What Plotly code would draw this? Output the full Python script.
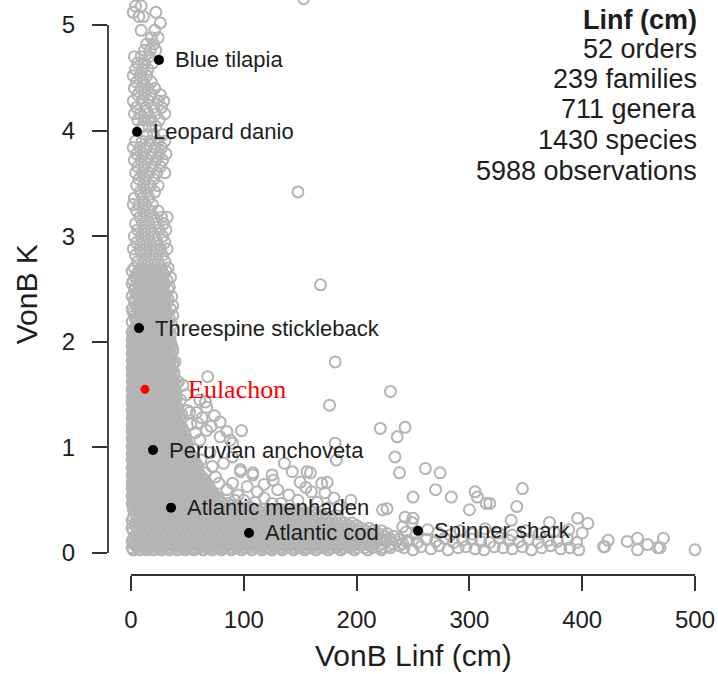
import plotly.graph_objects as go

# ---- observations: von Bertalanffy K (per year) against Linf (cm) ----
# Each row is (K, [Linf values observed at about that K]).

column_upper_rows = [
    (5.18, [4, 9]), (5.12, [2, 22]), (5.08, [7, 11]), (5.02, [26]),
    (4.95, [9, 21]), (4.88, [18, 24]), (4.82, [14, 20]), (4.76, [12, 17, 22]),
    (4.70, [3, 9, 16]), (4.64, [6, 12, 19]), (4.58, [4, 10, 15]), (4.52, [2, 8, 14]),
    (4.46, [5, 11, 18]), (4.40, [3, 9, 15, 21]), (4.34, [6, 12, 18, 26]),
    (4.28, [2, 10, 16, 24, 29]), (4.22, [5, 13, 20, 27]), (4.16, [3, 8, 15, 22, 30]),
    (4.10, [6, 12, 18, 25]), (4.04, [10, 16, 22]), (3.96, [14, 20, 28]),
    (3.90, [4, 10, 17, 24, 30]), (3.84, [2, 8, 14, 21, 27]), (3.78, [5, 11, 18, 25, 31]),
    (3.72, [3, 9, 15, 22, 28]), (3.66, [6, 12, 19, 26]), (3.60, [4, 10, 16, 23, 30]),
    (3.54, [7, 13, 20]), (3.48, [5, 11, 17, 24]), (3.42, [8, 14, 21]),
    (3.36, [3, 10, 16]), (3.30, [2, 7, 13, 19]), (3.24, [5, 11, 17, 24]),
    (3.18, [8, 14, 20, 27, 32]), (3.12, [4, 10, 16, 22, 29]), (3.06, [6, 12, 18, 25, 31]),
    (3.00, [3, 9, 15, 21, 28]), (2.94, [5, 11, 17, 23, 30]), (2.88, [2, 8, 14, 20, 26, 32]),
    (2.82, [4, 10, 16, 22, 28]), (2.76, [6, 12, 18, 24, 30]), (2.70, [3, 9, 15, 21, 27, 33]),
    (2.67, [1, 7, 13, 19, 25, 31]), (2.64, [5, 11, 17, 23, 29]), (2.61, [4, 10, 16, 22, 28, 35]),
    (2.58, [2, 8, 14, 20, 26, 32]), (2.55, [1, 6, 12, 18, 24, 30]), (2.52, [4, 10, 16, 22, 28, 34]),
    (2.49, [3, 9, 15, 21, 27, 33]), (2.46, [6, 12, 18, 24, 30]), (2.43, [1, 6, 12, 18, 24, 30, 36]),
    (2.40, [3, 9, 15, 21, 27, 33]), (2.37, [3, 8, 14, 20, 26, 32]), (2.34, [5, 11, 17, 23, 29, 37]),
    (2.31, [1, 6, 11, 17, 23, 29, 35]), (2.28, [2, 8, 14, 20, 26, 32]),
    (2.25, [3, 7, 13, 19, 25, 31, 37]), (2.22, [4, 10, 16, 22, 28, 34]),
    (2.19, [1, 5, 9, 15, 21, 27, 33]), (2.16, [6, 12, 18, 24, 30, 36]),
]

column_core_rows = [
    (2.13, [4, 8, 13, 17, 21, 26, 30]),
    (2.11, [2, 6, 10, 15, 19, 23, 28, 32]),
    (2.09, [1, 5, 10, 14, 19, 24, 28, 33]),
    (2.07, [3, 8, 12, 17, 21, 26, 30, 35]),
    (2.05, [2, 6, 10, 15, 19, 24, 28, 32]),
    (2.02, [1, 5, 10, 14, 19, 24, 28, 33]),
    (2.00, [3, 8, 12, 17, 21, 26, 30, 35]),
    (1.98, [3, 7, 12, 16, 21, 25, 30, 34]),
    (1.96, [1, 5, 9, 14, 18, 23, 27, 32, 36]),
    (1.93, [2, 6, 10, 15, 19, 24, 28, 33, 37]),
    (1.91, [3, 8, 11, 15, 20, 24, 29, 33, 37]),
    (1.89, [1, 4, 8, 13, 17, 22, 26, 31, 35]),
    (1.87, [2, 6, 10, 15, 19, 24, 28, 33]),
    (1.84, [3, 7, 11, 16, 20, 25, 29, 34]),
    (1.82, [1, 4, 8, 12, 17, 21, 26, 30, 35]),
    (1.80, [2, 5, 10, 14, 19, 23, 28, 32, 37]),
    (1.78, [3, 7, 11, 15, 19, 24, 28, 33, 37]),
    (1.75, [1, 4, 8, 12, 17, 21, 26, 30, 35]),
    (1.73, [2, 5, 9, 13, 17, 22, 26, 31, 36]),
    (1.71, [3, 6, 10, 15, 19, 24, 28, 33, 38]),
    (1.69, [1, 4, 8, 12, 16, 21, 25, 30, 34, 38]),
    (1.66, [2, 5, 9, 13, 18, 22, 27, 31, 36]),
    (1.64, [3, 7, 11, 15, 20, 24, 29, 33, 37]),
    (1.62, [1, 4, 8, 12, 16, 21, 25, 30, 34, 38]),
    (1.60, [2, 6, 10, 14, 18, 23, 27, 32, 36, 40]),
    (1.57, [3, 7, 11, 15, 20, 24, 29, 33, 37]),
    (1.55, [1, 5, 9, 13, 17, 22, 26, 31, 35, 39]),
    (1.53, [2, 5, 9, 14, 18, 23, 27, 32, 36]),
    (1.51, [3, 7, 11, 16, 20, 25, 29, 34, 38]),
    (1.48, [1, 4, 8, 12, 17, 21, 26, 30, 35, 39]),
    (1.46, [2, 6, 10, 14, 19, 23, 28, 32, 36, 40]),
    (1.44, [3, 6, 10, 15, 19, 24, 28, 33, 37]),
    (1.42, [1, 4, 8, 12, 17, 21, 26, 30, 35, 39]),
    (1.39, [2, 5, 9, 13, 18, 22, 27, 31, 36, 40]),
    (1.37, [3, 7, 11, 15, 19, 24, 28, 33, 37, 41]),
    (1.35, [1, 4, 8, 12, 16, 21, 25, 30, 34, 38]),
    (1.33, [2, 6, 10, 14, 18, 23, 27, 32, 36, 40]),
    (1.30, [3, 7, 11, 15, 20, 24, 29, 33, 37, 41]),
    (1.28, [1, 5, 9, 13, 17, 22, 26, 31, 35, 39, 43]),
    (1.26, [2, 5, 9, 14, 18, 23, 27, 32, 36, 40]),
    (1.24, [3, 7, 11, 16, 20, 25, 29, 34, 38, 42]),
    (1.21, [1, 4, 8, 12, 17, 21, 26, 30, 35, 39, 43]),
    (1.19, [2, 6, 10, 14, 19, 23, 28, 32, 37, 41, 45]),
    (1.17, [3, 6, 10, 15, 19, 24, 28, 33, 37, 41, 45]),
    (1.15, [1, 4, 8, 12, 17, 21, 26, 30, 35, 39, 43, 47]),
    (1.12, [2, 5, 9, 13, 18, 22, 27, 31, 36, 40, 44]),
    (1.10, [3, 7, 11, 15, 20, 24, 29, 33, 38, 42, 46]),
    (1.08, [1, 4, 8, 12, 16, 21, 25, 30, 34, 38, 43, 47]),
    (1.06, [2, 6, 10, 14, 18, 23, 27, 32, 36, 41, 45, 49]),
    (1.03, [3, 7, 11, 15, 20, 24, 29, 33, 37, 42, 46]),
    (1.01, [1, 5, 9, 13, 17, 22, 26, 31, 35, 39, 44, 48]),
    (0.99, [2, 5, 9, 14, 18, 23, 27, 32, 36, 40, 45, 49]),
    (0.97, [3, 7, 11, 16, 20, 25, 29, 34, 38, 43, 47, 51]),
    (0.94, [1, 4, 8, 12, 17, 21, 26, 30, 35, 39, 43, 48, 52]),
    (0.92, [2, 6, 10, 14, 19, 23, 28, 32, 37, 41, 45, 50, 54]),
    (0.90, [3, 6, 10, 15, 19, 24, 28, 33, 37, 41, 46, 50, 54]),
    (0.88, [1, 4, 8, 12, 16, 21, 25, 30, 35, 39, 43, 48, 52, 56]),
    (0.85, [2, 5, 9, 13, 18, 22, 27, 31, 36, 40, 44, 49, 53, 57]),
    (0.83, [3, 7, 11, 15, 20, 24, 29, 33, 38, 42, 47, 51, 55, 59]),
    (0.81, [1, 4, 8, 12, 16, 21, 25, 30, 34, 38, 43, 47, 52, 56]),
    (0.79, [2, 6, 10, 14, 18, 23, 27, 32, 36, 41, 45, 50, 54, 58]),
    (0.76, [3, 7, 11, 15, 20, 24, 29, 33, 37, 42, 46, 51, 55, 60]),
    (0.74, [1, 5, 9, 13, 17, 22, 26, 31, 35, 39, 44, 48, 53, 57, 61]),
    (0.72, [2, 5, 9, 14, 18, 23, 27, 32, 36, 40, 45, 49, 54, 58, 63]),
    (0.70, [3, 7, 11, 16, 20, 25, 29, 34, 38, 43, 47, 51, 56, 60, 65]),
    (0.67, [1, 4, 8, 12, 17, 21, 26, 30, 35, 39, 43, 48, 52, 57, 61, 66]),
    (0.65, [2, 6, 10, 14, 19, 23, 28, 32, 37, 41, 46, 50, 54, 59, 63, 68]),
    (0.63, [3, 6, 10, 15, 19, 24, 28, 33, 37, 41, 46, 50, 55, 59, 64, 68]),
    (0.61, [1, 5, 8, 12, 17, 21, 26, 30, 35, 39, 43, 48, 52, 57, 61, 66, 70]),
    (0.58, [2, 5, 9, 13, 18, 22, 27, 31, 36, 40, 44, 49, 53, 58, 62, 67, 72]),
    (0.56, [3, 7, 11, 15, 20, 24, 29, 33, 38, 42, 46, 51, 55, 60, 64, 69, 73]),
    (0.54, [1, 4, 8, 12, 16, 21, 25, 30, 34, 38, 43, 47, 52, 56, 61, 65, 70, 75]),
    (0.52, [2, 6, 10, 14, 18, 23, 27, 32, 36, 41, 45, 50, 54, 58, 63, 67, 72, 77]),
    (0.49, [3, 7, 11, 15, 20, 24, 29, 33, 37, 42, 46, 51, 55, 60, 64, 69, 74, 79]),
    (0.47, [1, 5, 9, 13, 17, 22, 26, 30, 35, 39, 44, 48, 52, 57, 61, 66, 70, 75, 80, 86]),
    (0.45, [2, 5, 9, 14, 18, 23, 27, 32, 36, 40, 45, 49, 54, 58, 63, 67, 72, 77, 83, 90]),
    (0.43, [3, 7, 11, 16, 20, 25, 29, 34, 38, 43, 47, 51, 56, 60, 65, 69, 74, 79, 85, 92,
            99, 106]),
]

bottom_band_rows = [
    (0.41, [2, 7, 13, 18, 24, 29, 35, 40, 46, 51, 57, 62, 68, 73, 79, 84, 90, 95,
            101, 106, 112, 117, 123, 128, 134, 139, 145, 150]),
    (0.385, [5, 10, 16, 21, 27, 32, 38, 43, 49, 54, 60, 65, 71, 76, 82, 87, 93, 98,
             104, 109, 115, 120, 126, 131, 137, 142, 148, 154, 160]),
    (0.36, [4, 10, 15, 21, 26, 32, 37, 43, 48, 54, 59, 65, 70, 76, 81, 87, 92, 98,
            103, 109, 114, 120, 125, 131, 136, 142, 147, 153, 158, 164, 170]),
    (0.335, [2, 7, 12, 18, 24, 29, 35, 40, 46, 51, 57, 62, 68, 73, 79, 84, 90, 95,
             101, 106, 112, 117, 123, 128, 134, 139, 145, 150, 156, 161, 167, 174, 181]),
    (0.31, [1, 7, 12, 18, 23, 29, 34, 40, 45, 51, 56, 62, 67, 73, 78, 84, 89, 95,
            100, 106, 111, 117, 122, 128, 133, 139, 144, 150, 155, 161, 166, 172, 178, 185]),
    (0.285, [4, 9, 15, 21, 26, 32, 37, 43, 48, 54, 59, 65, 70, 76, 81, 87, 92, 98,
             103, 109, 114, 120, 125, 131, 136, 142, 147, 153, 158, 164, 169, 175, 182,
             189, 196]),
    (0.26, [4, 9, 15, 20, 26, 31, 37, 42, 48, 53, 59, 64, 70, 75, 81, 86, 92, 97,
            103, 108, 114, 119, 125, 130, 136, 141, 147, 152, 158, 163, 169, 174, 180,
            186, 193, 200]),
    (0.235, [1, 7, 12, 18, 23, 29, 34, 40, 45, 51, 56, 62, 67, 73, 78, 84, 89, 95,
             100, 106, 111, 117, 122, 128, 133, 139, 144, 150, 155, 161, 166, 172, 177,
             183, 190, 197, 204, 211]),
    (0.21, [2, 7, 13, 18, 24, 29, 35, 40, 46, 51, 57, 62, 68, 73, 79, 84, 90, 95,
            101, 106, 112, 117, 123, 128, 134, 139, 145, 150, 156, 161, 167, 172, 178,
            183, 189, 195, 201, 208, 215, 222]),
    (0.185, [5, 10, 16, 21, 27, 32, 38, 43, 49, 54, 60, 65, 71, 76, 82, 87, 93, 98,
             104, 109, 115, 120, 126, 131, 137, 142, 148, 153, 159, 164, 170, 175, 181,
             186, 192, 198, 205, 212, 219, 227]),
    (0.16, [4, 10, 15, 21, 26, 32, 37, 43, 48, 54, 59, 65, 70, 76, 81, 87, 92, 98,
            103, 109, 114, 120, 125, 131, 136, 142, 147, 153, 158, 164, 169, 175, 180,
            186, 191, 197, 203, 210, 217, 225, 233]),
    (0.135, [2, 7, 13, 18, 24, 29, 35, 40, 46, 51, 57, 62, 68, 73, 79, 84, 90, 95,
             101, 106, 112, 117, 123, 128, 134, 139, 145, 150, 156, 161, 167, 172, 178,
             183, 189, 194, 200, 207, 214, 222, 230, 238]),
    (0.11, [1, 7, 12, 18, 23, 29, 34, 40, 45, 51, 56, 62, 67, 73, 78, 84, 89, 95,
            100, 106, 111, 117, 122, 128, 133, 139, 144, 150, 155, 161, 166, 172, 177,
            183, 188, 194, 199, 205, 211, 218, 226, 235, 244]),
    (0.09, [3, 9, 14, 20, 25, 31, 36, 42, 47, 53, 58, 64, 69, 75, 80, 86, 91, 97,
            102, 108, 113, 119, 124, 130, 135, 141, 146, 152, 157, 163, 168, 174, 179,
            185, 190, 196, 202, 208, 215, 223, 232, 241]),
    (0.07, [4, 9, 15, 20, 26, 31, 37, 42, 48, 53, 59, 64, 70, 75, 81, 86, 92, 97,
            103, 108, 114, 119, 125, 130, 136, 141, 147, 152, 158, 163, 169, 174, 180,
            185, 191, 197, 204, 212, 220, 229, 238]),
    (0.05, [1, 6, 12, 17, 23, 28, 34, 39, 45, 50, 56, 61, 67, 72, 78, 83, 89, 94,
            100, 105, 111, 116, 122, 127, 133, 138, 144, 149, 155, 160, 166, 171, 177,
            182, 188, 194, 200, 207, 214, 222, 230]),
    (0.03, [2, 8, 14, 20, 27, 34, 41, 48, 56, 64, 72, 80, 89, 98, 107, 116, 125, 134,
            144, 154, 164, 175, 186, 198, 210, 222]),
]

# scattered observations off the main mass
scatter_linf = [
    39, 46, 68, 61, 50, 43, 58, 67, 66, 52, 45, 59, 79, 67, 85, 98, 57, 61, 79, 90,
    50, 70, 82, 97, 108, 90, 103, 112, 88, 90, 108, 97, 55, 62, 58, 66, 75, 72, 78,
    85, 95, 100, 110, 118, 92, 105, 125, 48, 53, 44, 42, 49, 74, 63, 71,
    125, 136, 156, 174, 182, 143, 159, 126, 150, 169, 172, 130, 140, 160, 148, 165,
    180, 118, 155, 185, 195, 133, 175,
    148, 168, 181, 176, 181, 153,
    230, 221, 243, 236, 234, 238, 261, 274, 270, 250, 284, 305, 307, 318, 300, 347,
    342, 337, 227, 396, 405, 400, 423, 420, 440, 449, 458, 469, 472, 500, 449, 419,
    467, 250, 243, 315, 371, 241, 249, 223,
    242, 250, 257, 266, 273, 281, 290, 297, 305, 313, 322, 330, 338, 347, 355, 364,
    372, 381, 389, 397,
    246, 254, 262, 270, 278, 286, 294, 302, 310, 318, 327, 335, 344, 352, 361, 370,
    378, 387, 395,
    244, 253, 263, 272, 283, 292, 303, 314, 326, 338, 350, 362, 375, 388,
]
scatter_k = [
    1.81, 1.59, 1.67, 1.45, 1.35, 1.29, 1.33, 1.38, 1.43, 1.33, 1.31, 1.23, 1.24, 1.16,
    1.15, 1.16, 1.14, 1.07, 1.10, 1.04, 1.02, 0.95, 0.85, 0.79, 0.74, 0.66, 0.63, 0.58,
    1.07, 0.91, 0.76, 0.77, 0.98, 0.88, 0.80, 0.76, 0.72, 0.82, 0.66, 0.60, 0.55, 0.50,
    0.48, 0.52, 0.50, 0.44, 0.47, 1.12, 1.22, 1.45, 1.62, 1.50, 1.30, 1.28, 1.20,
    0.74, 0.85, 0.77, 0.67, 0.88, 0.77, 0.76, 0.69, 0.67, 0.66, 0.57, 0.60, 0.55, 0.58,
    0.50, 0.48, 0.52, 0.65, 0.62, 0.45, 0.50, 0.47, 0.43,
    3.42, 2.54, 1.81, 1.40, 1.04, 5.25,
    1.53, 1.18, 1.19, 1.10, 0.91, 0.76, 0.80, 0.76, 0.60, 0.53, 0.53, 0.58, 0.53, 0.47,
    0.41, 0.61, 0.44, 0.31, 0.42, 0.33, 0.28, 0.19, 0.12, 0.06, 0.11, 0.14, 0.08, 0.05,
    0.14, 0.03, 0.03, 0.06, 0.05, 0.33, 0.34, 0.47, 0.29, 0.25, 0.29, 0.41,
    0.05, 0.03, 0.06, 0.04, 0.07, 0.03, 0.05, 0.06, 0.04, 0.03, 0.06, 0.05, 0.04, 0.06,
    0.03, 0.05, 0.07, 0.04, 0.05, 0.03,
    0.12, 0.10, 0.13, 0.11, 0.14, 0.10, 0.12, 0.13, 0.11, 0.10, 0.14, 0.12, 0.11, 0.13,
    0.10, 0.12, 0.11, 0.13, 0.10,
    0.20, 0.18, 0.22, 0.19, 0.17, 0.21, 0.18, 0.23, 0.19, 0.17, 0.21, 0.18, 0.20, 0.22,
]

# highlighted species
species_names = ["Blue tilapia", "Leopard danio", "Threespine stickleback",
                 "Peruvian anchoveta", "Atlantic menhaden", "Atlantic cod", "Spinner shark"]
species_linf = [24.8, 5.3, 7.1, 19.5, 35.5, 104.6, 254.4]
species_k = [4.67, 3.99, 2.13, 0.975, 0.43, 0.19, 0.21]

focal_name = "Eulachon"
focal_linf = [12.4]
focal_k = [1.55]

summary_title = "Linf (cm)"
summary_lines = ["52 orders", "239 families", "711 genera", "1430 species", "5988 observations"]

x_ticks = [0, 100, 200, 300, 400, 500]
y_ticks = [0, 1, 2, 3, 4, 5]


def expand(rows):
    xs, ys = [], []
    for k, linfs in rows:
        xs.extend(linfs)
        ys.extend([k] * len(linfs))
    return xs, ys


all_x, all_y = [], []
for group in (column_upper_rows, column_core_rows, bottom_band_rows):
    gx, gy = expand(group)
    all_x += gx
    all_y += gy
all_x += scatter_linf
all_y += scatter_k

SANS = "Liberation Sans, Arial, Helvetica, sans-serif"
GREY = "#b4b4b4"
INK = "#1e1e1e"

fig = go.Figure()
fig.add_trace(go.Scatter(
    x=all_x, y=all_y, mode="markers",
    marker=dict(symbol="circle-open", size=11, color=GREY, line=dict(width=2.0, color=GREY)),
    hoverinfo="skip", showlegend=False,
))
fig.add_trace(go.Scatter(
    x=species_linf, y=species_k, mode="markers",
    marker=dict(symbol="circle", size=10, color="#000000"),
    text=species_names, hoverinfo="text", showlegend=False,
))
fig.add_trace(go.Scatter(
    x=focal_linf, y=focal_k, mode="markers",
    marker=dict(symbol="circle", size=9, color="#ff0000"),
    text=[focal_name], hoverinfo="text", showlegend=False,
))

annotations = []
for name, lx, ky in zip(species_names, species_linf, species_k):
    annotations.append(dict(
        x=lx, y=ky, xref="x", yref="y", text=name, showarrow=False,
        xanchor="left", yanchor="middle", xshift=14,
        font=dict(family=SANS, size=22, color=INK),
    ))
annotations.append(dict(
    x=focal_linf[0], y=focal_k[0], xref="x", yref="y", text=focal_name, showarrow=False,
    xanchor="left", yanchor="middle", xshift=41,
    font=dict(family="Liberation Serif, Times New Roman, serif", size=26, color="#ff0000"),
))

# summary block, right-aligned in the upper right corner
summary_y = [0.965, 0.914, 0.862, 0.810, 0.756, 0.702]
for i, line in enumerate([summary_title] + summary_lines):
    annotations.append(dict(
        x=0.969, y=summary_y[i], xref="paper", yref="paper",
        text=f"<b>{line}</b>" if i == 0 else line, showarrow=False,
        xanchor="right", yanchor="middle",
        font=dict(family=SANS, size=27, color=INK),
    ))

# axis titles
annotations.append(dict(
    x=250, y=0, xref="x", yref="paper", text="VonB Linf (cm)", showarrow=False,
    xanchor="center", yanchor="middle", yshift=-80,
    font=dict(family=SANS, size=30, color=INK),
))
annotations.append(dict(
    x=0, y=2.45, xref="paper", yref="y", text="VonB K", showarrow=False, textangle=-90,
    xanchor="center", yanchor="middle", xshift=-82,
    font=dict(family=SANS, size=30, color=INK),
))

# axis lines spanning only the tick range
shapes = [
    dict(type="line", xref="paper", yref="y", x0=0, x1=0, y0=0, y1=5,
         line=dict(color="#333333", width=1.8)),
    dict(type="line", xref="x", yref="paper", x0=0, x1=500, y0=0, y1=0,
         line=dict(color="#333333", width=1.8)),
]

fig.update_layout(
    width=718, height=674,
    margin=dict(l=108, r=0, t=0, b=99),
    paper_bgcolor="white", plot_bgcolor="white",
    annotations=annotations, shapes=shapes,
    xaxis=dict(
        range=[-20.4, 520.4], tickvals=x_ticks, ticks="outside", ticklen=15, tickwidth=1.8,
        tickcolor="#333333", showgrid=False, zeroline=False, showline=False,
        tickfont=dict(family=SANS, size=24, color=INK), ticklabelstandoff=8,
    ),
    yaxis=dict(
        range=[-0.208, 5.237], tickvals=y_ticks, ticks="outside", ticklen=15, tickwidth=1.8,
        tickcolor="#333333", showgrid=False, zeroline=False, showline=False,
        tickfont=dict(family=SANS, size=24, color=INK), ticklabelstandoff=12,
    ),
)

fig.write_html("out.html")
